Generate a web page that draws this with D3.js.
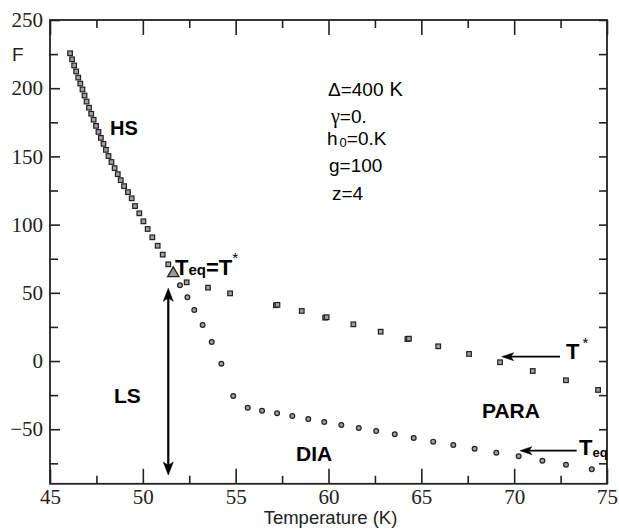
<!DOCTYPE html>
<html>
<head>
<meta charset="utf-8">
<script src="https://cdn.jsdelivr.net/npm/d3@7/dist/d3.min.js"></script>
<style>
  body { margin: 0; background: #fff; }
  svg { display: block; }
</style>
</head>
<body>
<svg id="chart" width="619" height="530"></svg>
<script>
// High-spin branch (shared by both transition curves above T_eq = T*)
const hsTemp = [46.08, 46.19, 46.30, 46.41, 46.52, 46.63, 46.75, 46.86, 46.97, 47.10,
                47.22, 47.35, 47.48, 47.61, 47.74, 47.88, 48.01, 48.15, 48.31, 48.48,
                48.65, 48.81, 48.99, 49.20, 49.40, 49.58, 49.81, 50.03, 50.26, 50.51,
                50.80, 51.07, 51.37];
const hsF = [225.6, 221.2, 216.7, 212.3, 207.8, 203.4, 199.1, 194.6, 190.2, 185.7,
             181.3, 176.9, 172.4, 168.0, 163.6, 159.2, 154.8, 150.3, 145.9, 141.4,
             137.0, 132.6, 128.2, 123.8, 119.3, 113.6, 108.3, 102.4, 96.8, 90.7,
             84.5, 78.0, 70.9];

// T* branch (paramagnetic side)
const tStarTemp = [52.36, 53.51, 54.70, 57.17, 57.25, 58.56, 59.82, 59.90, 61.34, 62.81,
                   64.25, 64.33, 65.91, 67.57, 69.24, 71.00, 72.79, 74.52];
const tStarF = [57.7, 53.8, 49.6, 40.9, 41.2, 36.7, 31.8, 32.1, 26.9, 21.5,
                16.1, 16.4, 10.8, 5.2, -0.9, -7.3, -14.1, -21.2];

// T_eq branch (diamagnetic side)
const diaTemp = [52.00, 52.40, 52.77, 53.22, 53.71, 54.23, 54.87, 55.65, 56.42, 57.23,
                 58.05, 58.91, 59.77, 60.69, 61.63, 62.57, 63.57, 64.59, 65.64, 66.72,
                 67.87, 69.04, 70.24, 71.52, 72.79, 74.18];
const diaF = [55.5, 46.7, 37.4, 26.4, 14.0, -2.0, -25.6, -34.2, -36.4, -38.3,
              -40.3, -42.5, -44.7, -46.9, -49.1, -51.3, -53.7, -56.4, -59.1, -61.6,
              -64.3, -67.2, -69.8, -73.1, -76.0, -79.4];

// Point where T_eq = T*
const eqTemp = [51.64];
const eqF = [64.3];

const xMajorTicks = [45, 50, 55, 60, 65, 70, 75];
const xMinorTicks = [47.5, 52.5, 57.5, 62.5, 67.5, 72.5];
const yMajorTicks = [-50, 0, 50, 100, 150, 200, 250];
const yMinorTicks = [-75, -25, 25, 75, 125, 175, 225];

const svg = d3.select("#chart");
const x = d3.scaleLinear().domain([45, 75]).range([50, 607]);
const y = d3.scaleLinear().domain([-90, 250]).range([483.8, 20]);

const ink = "#222";
const serif = "'Liberation Serif', 'Times New Roman', serif";
const sans = "'Liberation Sans', Arial, Helvetica, sans-serif";

// ---- axes: ticks point inward on all four sides ----
function styleAxis(g) {
  g.select(".domain").remove();
  g.selectAll(".tick line").attr("stroke", ink).attr("stroke-width", 1.6);
  g.selectAll(".tick text").attr("fill", ink).attr("font-family", serif).attr("font-size", 21);
}
const b = y(-90), t = y(250), l = x(45), r = x(75);

svg.append("g").attr("transform", `translate(0,${b})`)
  .call(d3.axisBottom(x).tickValues(xMajorTicks).tickSize(-15).tickPadding(5).tickFormat(d3.format("d")))
  .call(styleAxis);
svg.append("g").attr("transform", `translate(0,${b})`)
  .call(d3.axisBottom(x).tickValues(xMinorTicks).tickSize(-8).tickFormat(""))
  .call(styleAxis);
svg.append("g").attr("transform", `translate(0,${t})`)
  .call(d3.axisTop(x).tickValues(xMajorTicks).tickSize(-15).tickFormat(""))
  .call(styleAxis);
svg.append("g").attr("transform", `translate(0,${t})`)
  .call(d3.axisTop(x).tickValues(xMinorTicks).tickSize(-8).tickFormat(""))
  .call(styleAxis);
svg.append("g").attr("transform", `translate(${l},0)`)
  .call(d3.axisLeft(y).tickValues(yMajorTicks).tickSize(-10).tickPadding(7).tickFormat(d3.format("d")))
  .call(styleAxis);
svg.append("g").attr("transform", `translate(${l},0)`)
  .call(d3.axisLeft(y).tickValues(yMinorTicks).tickSize(-8).tickFormat(""))
  .call(styleAxis);
svg.append("g").attr("transform", `translate(${r},0)`)
  .call(d3.axisRight(y).tickValues(yMajorTicks).tickSize(-8).tickFormat(""))
  .call(styleAxis);
svg.append("g").attr("transform", `translate(${r},0)`)
  .call(d3.axisRight(y).tickValues(yMinorTicks).tickSize(-8).tickFormat(""))
  .call(styleAxis);

svg.append("rect")
  .attr("x", l).attr("y", t).attr("width", r - l).attr("height", b - t)
  .attr("fill", "none").attr("stroke", ink).attr("stroke-width", 1.8);

// axis titles
svg.append("text").attr("x", 12).attr("y", 61)
  .attr("font-family", sans).attr("font-size", 19).attr("fill", ink).text("F");
svg.append("text").attr("x", (l + r) / 2 + 2).attr("y", 524)
  .attr("text-anchor", "middle").attr("font-family", sans).attr("font-size", 18.5)
  .attr("fill", ink).text("Temperature (K)");

// ---- markers ----
const markFill = "#a0a0a0";
const zip = (xs, ys) => xs.map((v, i) => [v, ys[i]]);
const sq = 4.6;

svg.append("g").selectAll("rect")
  .data(zip(hsTemp, hsF).concat(zip(tStarTemp, tStarF)))
  .join("rect")
  .attr("x", d => x(d[0]) - sq / 2).attr("y", d => y(d[1]) - sq / 2)
  .attr("width", sq).attr("height", sq)
  .attr("fill", markFill).attr("stroke", ink).attr("stroke-width", 1.2);

svg.append("g").selectAll("circle")
  .data(zip(diaTemp, diaF))
  .join("circle")
  .attr("cx", d => x(d[0])).attr("cy", d => y(d[1])).attr("r", 2.4)
  .attr("fill", markFill).attr("stroke", ink).attr("stroke-width", 1.2);

svg.append("g").selectAll("path")
  .data(zip(eqTemp, eqF))
  .join("path")
  .attr("d", d3.symbol(d3.symbolTriangle, 55))
  .attr("transform", d => `translate(${x(d[0])},${y(d[1])})`)
  .attr("fill", "#999").attr("stroke", ink).attr("stroke-width", 1.3);

// ---- arrows ----
function arrowHead(tipX, tipY, dirX, dirY, len, half) {
  const bx = tipX - dirX * len, by = tipY - dirY * len;
  const px = -dirY * half, py = dirX * half;
  return `M${tipX},${tipY}L${bx + px},${by + py}L${bx + dirX * len * 0.25},${by + dirY * len * 0.25}L${bx - px},${by - py}Z`;
}
const arrows = svg.append("g").attr("fill", "#000").attr("stroke", "#000");

// vertical double arrow between the two curves at T_eq
{
  const ax = x(51.37), top = y(53.3), bot = y(-83.6);
  arrows.append("line").attr("x1", ax).attr("x2", ax).attr("y1", top + 6).attr("y2", bot - 6)
    .attr("stroke-width", 2.2);
  arrows.append("path").attr("d", arrowHead(ax, top, 0, -1, 13, 5)).attr("stroke-width", 0.5);
  arrows.append("path").attr("d", arrowHead(ax, bot, 0, 1, 13, 5)).attr("stroke-width", 0.5);
}
// horizontal pointers for T* and T_eq
[[72.47, 69.33, 3.2], [73.37, 70.31, -65.7]].forEach(([from, to, f]) => {
  const yy = y(f);
  arrows.append("line").attr("x1", x(from)).attr("x2", x(to) + 6).attr("y1", yy).attr("y2", yy)
    .attr("stroke-width", 1.6);
  arrows.append("path").attr("d", arrowHead(x(to), yy, -1, 0, 12, 4)).attr("stroke-width", 0.5);
});

// ---- region labels ----
const labels = svg.append("g").attr("font-family", sans).attr("font-weight", "bold").attr("fill", "#000");
labels.append("text").attr("x", 110).attr("y", 135).attr("font-size", 20).text("HS");
labels.append("text").attr("x", 114).attr("y", 403).attr("font-size", 21).text("LS");
labels.append("text").attr("x", 296).attr("y", 461).attr("font-size", 21).text("DIA");
labels.append("text").attr("x", 482).attr("y", 418).attr("font-size", 21).text("PARA");

// T_eq = T*
{
  const tx = labels.append("text").attr("x", 175).attr("y", 275).attr("font-size", 22);
  tx.append("tspan").text("T");
  tx.append("tspan").attr("font-size", 15).text("eq");
  tx.append("tspan").text("=T");
  tx.append("tspan").attr("font-size", 15).attr("font-weight", "normal").attr("dy", -12).text("*");
}
// T*
{
  const tx = labels.append("text").attr("x", 566).attr("y", 359).attr("font-size", 22);
  tx.append("tspan").text("T");
  tx.append("tspan").attr("font-size", 15).attr("font-weight", "normal").attr("dy", -11).attr("dx", 3).text("*");
}
// T_eq
{
  const tx = labels.append("text").attr("x", 579).attr("y", 455).attr("font-size", 22);
  tx.append("tspan").text("T");
  tx.append("tspan").attr("font-size", 13).attr("dy", 2).text("eq");
}

// ---- model parameters ----
const params = svg.append("g").attr("font-family", sans).attr("font-size", 19).attr("fill", "#000");
{
  const p1 = params.append("text").attr("x", 328).attr("y", 96);
  p1.append("tspan").text("Δ=400");
  p1.append("tspan").attr("dx", 6).attr("font-size", 20).text("K");
  const p2 = params.append("text").attr("x", 331).attr("y", 123);
  p2.append("tspan").attr("font-family", serif).attr("font-size", 20).text("γ");
  p2.append("tspan").text("=0.");
  const p3 = params.append("text").attr("x", 327).attr("y", 145);
  p3.append("tspan").text("h");
  p3.append("tspan").attr("font-size", 13).attr("dx", 2).attr("dy", 2).text("0");
  p3.append("tspan").attr("dy", -2).text("=0.K");
  params.append("text").attr("x", 329).attr("y", 172).text("g=100");
  params.append("text").attr("x", 332).attr("y", 200).text("z=4");
}
</script>
</body>
</html>
